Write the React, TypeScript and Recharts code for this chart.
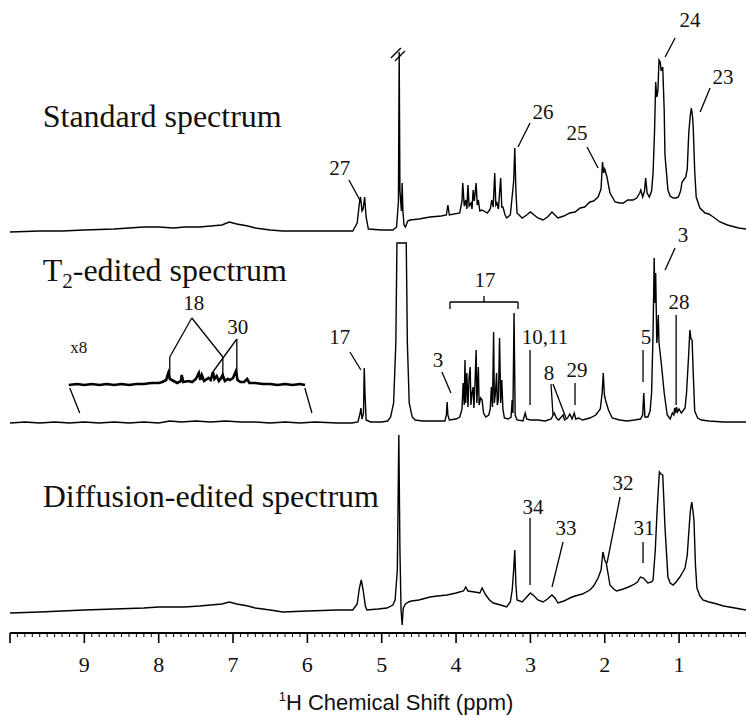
import { LineChart, Line, XAxis, YAxis, ReferenceLine, ReferenceDot } from "recharts";

// [ppm, intensity above the trace's own baseline]
const standardSpectrum: [number, number][] = [
  [10.0, -1], [9.6, 0], [9.3, 0], [9.0, 1], [8.6, 2], [8.2, 4], [8.0, 4], [7.8, 3], [7.65, 4],
  [7.45, 4], [7.3, 5], [7.15, 6], [7.05, 9], [6.95, 7], [6.8, 5], [6.7, 3], [6.5, 1], [6.33, 0],
  [5.8, 0], [5.39, 0], [5.33, 8], [5.3, 28], [5.285, 34], [5.265, 20], [5.25, 22], [5.23, 34],
  [5.21, 14], [5.18, 2], [5.0, 1], [4.85, 1], [4.8, 4], [4.775, 30], [4.765, 179], [4.755, 40],
  [4.735, 20], [4.725, 48], [4.715, 20], [4.7, 6], [4.68, 4], [4.65, 10], [4.62, 11], [4.5, 12],
  [4.35, 14], [4.2, 15], [4.13, 16], [4.11, 26], [4.09, 16], [3.95, 18], [3.92, 30], [3.91, 48],
  [3.89, 25], [3.87, 31], [3.855, 22], [3.84, 46], [3.825, 25], [3.8, 28], [3.785, 22], [3.77, 41],
  [3.755, 30], [3.73, 48], [3.715, 26], [3.7, 31], [3.68, 20], [3.65, 21], [3.58, 18], [3.54, 22],
  [3.52, 31], [3.5, 24], [3.48, 58], [3.465, 26], [3.45, 28], [3.43, 22], [3.4, 53], [3.385, 24],
  [3.37, 24], [3.34, 16], [3.32, 13], [3.27, 16], [3.25, 31], [3.225, 50], [3.21, 83], [3.195, 40],
  [3.18, 18], [3.11, 13], [3.05, 16], [3.0, 19], [2.95, 16], [2.9, 13], [2.83, 11], [2.77, 14],
  [2.71, 19], [2.67, 16], [2.63, 13], [2.55, 15], [2.47, 18], [2.4, 19], [2.33, 23], [2.27, 24],
  [2.2, 29], [2.15, 30], [2.09, 34], [2.05, 42], [2.03, 69], [2.015, 58], [2.0, 62], [1.97, 54],
  [1.93, 38], [1.86, 29], [1.8, 28], [1.75, 28], [1.69, 31], [1.62, 31], [1.57, 33], [1.53, 38],
  [1.515, 41], [1.49, 34], [1.465, 40], [1.45, 53], [1.43, 38], [1.4, 34], [1.37, 40], [1.35, 58],
  [1.33, 100], [1.315, 149], [1.3, 134], [1.285, 140], [1.27, 171], [1.255, 169], [1.24, 160],
  [1.22, 164], [1.2, 120], [1.19, 76], [1.15, 41], [1.12, 35], [1.08, 33], [1.04, 33], [1.01, 34],
  [0.98, 40], [0.96, 49], [0.93, 52], [0.91, 54], [0.89, 62], [0.87, 98], [0.85, 115], [0.835, 123],
  [0.82, 115], [0.81, 104], [0.79, 60], [0.77, 34], [0.72, 23], [0.65, 18], [0.6, 17], [0.54, 14],
  [0.45, 9], [0.35, 6], [0.2, 3], [0.1, 2],
];

const t2Spectrum: [number, number][] = [
  [10.0, 0], [9.8, 1], [9.6, 0], [9.4, 1], [9.2, 0], [9.0, 1], [8.8, 0], [8.6, 1], [8.4, 0],
  [8.2, 1], [8.0, 0], [7.85, 2], [7.7, 1], [7.5, 2], [7.3, 1], [7.1, 2], [6.9, 1], [6.7, 1],
  [6.5, 0], [6.3, 1], [6.1, 0], [5.9, 1], [5.6, 0], [5.4, 0], [5.32, 1], [5.29, 10], [5.28, 15],
  [5.265, 4], [5.245, 10], [5.235, 55], [5.225, 30], [5.21, 3], [5.15, 1], [5.0, 1], [4.92, 2],
  [4.88, 6], [4.84, 20], [4.81, 80], [4.795, 180], [4.67, 180], [4.655, 80], [4.63, 20], [4.59, 6],
  [4.55, 3], [4.45, 2], [4.3, 2], [4.15, 2], [4.13, 8], [4.12, 21], [4.11, 8], [4.09, 3], [4.0, 4],
  [3.95, 6], [3.92, 14], [3.905, 40], [3.89, 18], [3.88, 63], [3.87, 20], [3.855, 50], [3.84, 16],
  [3.825, 45], [3.81, 56], [3.8, 18], [3.785, 30], [3.77, 36], [3.76, 15], [3.745, 40], [3.73, 73],
  [3.72, 20], [3.7, 56], [3.69, 18], [3.67, 25], [3.65, 23], [3.63, 10], [3.6, 6], [3.56, 8],
  [3.54, 14], [3.525, 36], [3.51, 16], [3.495, 91], [3.485, 20], [3.47, 30], [3.455, 50], [3.445, 18],
  [3.43, 24], [3.415, 85], [3.4, 20], [3.385, 43], [3.37, 14], [3.35, 5], [3.3, 4], [3.26, 6],
  [3.245, 23], [3.235, 10], [3.22, 110], [3.205, 8], [3.18, 3], [3.1, 2], [3.07, 10], [3.05, 4],
  [3.0, 3], [2.9, 3], [2.8, 2], [2.72, 4], [2.68, 10], [2.65, 5], [2.62, 3], [2.56, 8], [2.54, 3],
  [2.5, 5], [2.47, 9], [2.44, 4], [2.41, 10], [2.39, 4], [2.35, 5], [2.3, 3], [2.2, 5], [2.12, 8],
  [2.06, 14], [2.035, 30], [2.02, 50], [2.005, 28], [1.99, 23], [1.95, 13], [1.9, 5], [1.8, 3],
  [1.7, 2], [1.6, 3], [1.52, 4], [1.49, 8], [1.475, 30], [1.46, 6], [1.42, 6], [1.39, 12],
  [1.37, 30], [1.35, 90], [1.335, 165], [1.325, 120], [1.315, 150], [1.3, 80], [1.29, 90],
  [1.28, 108], [1.27, 80], [1.24, 60], [1.2, 30], [1.16, 8], [1.12, 4], [1.09, 10], [1.07, 8],
  [1.06, 15], [1.045, 10], [1.035, 16], [1.02, 11], [1.0, 14], [0.97, 10], [0.95, 12], [0.92, 15],
  [0.9, 30], [0.87, 70], [0.855, 93], [0.84, 84], [0.825, 83], [0.81, 50], [0.79, 12], [0.75, 5],
  [0.7, 3], [0.6, 2], [0.4, 1], [0.1, 1],
];

// aromatic region of the T2-edited spectrum, shown x8
const t2Inset: [number, number][] = [
  [9.21, 0], [9.1, 1], [9.0, 0], [8.9, 1], [8.8, 0], [8.7, 1], [8.6, 0], [8.5, 1], [8.4, 0],
  [8.3, 1], [8.2, 1], [8.1, 2], [8.0, 2], [7.95, 3], [7.9, 5], [7.87, 12], [7.85, 6], [7.8, 4],
  [7.75, 2], [7.7, 4], [7.69, 10], [7.67, 3], [7.6, 4], [7.55, 3], [7.5, 6], [7.46, 12], [7.44, 5],
  [7.42, 10], [7.39, 4], [7.33, 7], [7.3, 5], [7.27, 13], [7.25, 6], [7.22, 9], [7.19, 4],
  [7.16, 7], [7.14, 10], [7.11, 4], [7.07, 6], [7.04, 5], [7.0, 7], [6.96, 14], [6.94, 5],
  [6.9, 3], [6.85, 3], [6.81, 6], [6.78, 2], [6.7, 2], [6.6, 1], [6.5, 1], [6.4, 0], [6.3, 1],
  [6.2, 0], [6.1, 1], [6.03, 0],
];

const diffusionSpectrum: [number, number][] = [
  [10.0, -3], [9.6, -2], [9.3, -1], [9.0, 0], [8.6, 1], [8.2, 2], [8.0, 3], [7.8, 3], [7.65, 3],
  [7.45, 4], [7.3, 5], [7.15, 6], [7.05, 8], [6.95, 6], [6.8, 4], [6.7, 2], [6.5, 0], [6.33, -2],
  [6.0, -1], [5.6, 0], [5.39, 0], [5.33, 6], [5.3, 22], [5.275, 30], [5.25, 20], [5.22, 4],
  [5.2, 0], [5.05, 1], [4.93, 2], [4.85, 5], [4.82, 10], [4.79, 40], [4.77, 175], [4.755, 60],
  [4.74, 0], [4.725, -15], [4.71, 2], [4.68, 6], [4.64, 8], [4.6, 9], [4.5, 10], [4.4, 12],
  [4.35, 13], [4.25, 14], [4.12, 15], [4.0, 17], [3.9, 19], [3.87, 23], [3.84, 19], [3.75, 18],
  [3.68, 17], [3.65, 22], [3.6, 15], [3.55, 10], [3.5, 7], [3.4, 5], [3.32, 3], [3.27, 8],
  [3.245, 20], [3.225, 40], [3.21, 60], [3.195, 25], [3.18, 10], [3.11, 8], [3.05, 13], [3.0, 17],
  [2.95, 14], [2.9, 10], [2.83, 8], [2.77, 11], [2.71, 15], [2.67, 12], [2.63, 7], [2.55, 9],
  [2.47, 12], [2.4, 14], [2.3, 16], [2.2, 20], [2.15, 24], [2.09, 32], [2.05, 40], [2.025, 58],
  [2.0, 50], [1.98, 47], [1.95, 34], [1.93, 25], [1.88, 21], [1.84, 19], [1.75, 21], [1.68, 23],
  [1.62, 25], [1.56, 28], [1.52, 33], [1.48, 32], [1.42, 27], [1.37, 28], [1.35, 30], [1.32, 60],
  [1.3, 93], [1.28, 120], [1.265, 138], [1.245, 136], [1.22, 135], [1.205, 110], [1.19, 83],
  [1.15, 33], [1.12, 27], [1.08, 25], [1.04, 28], [0.99, 33], [0.95, 38], [0.92, 42], [0.89, 55],
  [0.87, 77], [0.85, 98], [0.83, 108], [0.815, 100], [0.8, 90], [0.78, 45], [0.76, 22],
  [0.72, 14], [0.68, 10], [0.6, 8], [0.54, 7], [0.4, 4], [0.25, 2], [0.1, 0],
];

const majorTicks = [9, 8, 7, 6, 5, 4, 3, 2, 1];
const minorTicks = Array.from({ length: 100 }, (_, i) => +(0.1 + i * 0.1).toFixed(1));

// peak labels: [text, ppm, height]
const peakLabels: [string, number, number][] = [
  ["27", 5.563, 465], ["26", 2.83, 521], ["25", 2.373, 500], ["24", 0.852, 613], ["23", 0.408, 556],
  ["17", 3.611, 353], ["17", 5.563, 296], ["3", 4.244, 273], ["10,11", 2.803, 296], ["8", 2.75, 260],
  ["29", 2.373, 263], ["5", 1.444, 296], ["3", 0.946, 398], ["28", 1.0, 331],
  ["18", 7.528, 330], ["30", 6.935, 306],
  ["34", 2.965, 126], ["33", 2.521, 105], ["32", 1.754, 150], ["31", 1.471, 105],
];

// leader lines: [ppm1, h1, ppm2, h2]
const leaderLines: [number, number, number, number][] = [
  [5.441, 453, 5.28, 431], [3.005, 510, 3.167, 486], [2.238, 486, 2.09, 465],
  [1.054, 595, 1.188, 576], [0.583, 545, 0.717, 521],
  [4.876, 575, 4.742, 585], [4.822, 572, 4.688, 582],
  [4.082, 331, 3.167, 331], [4.082, 331, 4.082, 324], [3.167, 331, 3.167, 324], [3.624, 331, 3.624, 337],
  [5.428, 281, 5.28, 263], [4.19, 261, 4.069, 240], [3.005, 283, 3.005, 228],
  [2.723, 249, 2.696, 218], [2.696, 249, 2.521, 215], [2.4, 250, 2.4, 228],
  [1.485, 283, 1.485, 251], [1.054, 385, 1.188, 363], [1.04, 318, 1.04, 228],
  [7.555, 315, 7.851, 276], [7.851, 276, 7.851, 255], [7.555, 315, 7.137, 276], [7.137, 276, 7.137, 256],
  [6.949, 294, 7.272, 261], [6.949, 294, 6.949, 257],
  [9.196, 245, 9.062, 220], [6.034, 245, 5.939, 220],
  [3.005, 115, 3.005, 48], [2.561, 91, 2.709, 46], [1.794, 136, 1.969, 70], [1.485, 91, 1.485, 70],
];

const STANDARD_BASE = 402;
const T2_BASE = 210;
const INSET_BASE = 248;
const DIFFUSION_BASE = 23;

const SERIF = "'Liberation Serif', 'Times New Roman', serif";
const SANS = "'Liberation Sans', Arial, sans-serif";

const toRows = (pts: [number, number][], base: number) => pts.map(([x, v]) => ({ x, y: v + base }));

const AxisTick = (props: any) => {
  const { x, y, payload } = props;
  const v = payload.value;
  const major = Math.abs(v - Math.round(v)) < 1e-6;
  return (
    <g>
      <line x1={x} x2={x} y1={y} y2={y + (major ? 10 : 4)} stroke="#000" strokeWidth={major ? 1.6 : 1} />
      {major && majorTicks.includes(Math.round(v)) && (
        <text x={x} y={y + 39} textAnchor="middle" fontFamily={SERIF} fontSize={22} fill="#111">
          {Math.round(v)}
        </text>
      )}
    </g>
  );
};

const AxisTitle = (props: any) => {
  const vb = props.viewBox;
  return (
    <text x={vb.x + 386} y={vb.y + 77} textAnchor="middle" fontFamily={SANS} fontSize={22} fill="#111">
      <tspan fontSize={13} dy={-9}>1</tspan>
      <tspan dy={9}>H Chemical Shift (ppm)</tspan>
    </text>
  );
};

const SpectrumTitle = ({ viewBox, text, sub }: any) => (
  <text x={viewBox.x} y={viewBox.y} fontFamily={SERIF} fontSize={32} fill="#111">
    {sub ? (
      <>
        <tspan>T</tspan>
        <tspan fontSize={21} dy={7}>2</tspan>
        <tspan dy={-7}>-edited spectrum</tspan>
      </>
    ) : (
      text
    )}
  </text>
);

const PeakLabel = ({ viewBox, text }: any) => (
  <text x={viewBox.x} y={viewBox.y + 7} textAnchor="middle" fontFamily={SERIF} fontSize={21} fill="#111">
    {text}
  </text>
);

export default function App() {
  const lineProps = {
    dataKey: "y",
    stroke: "#000",
    dot: false,
    type: "linear" as const,
    isAnimationActive: false,
  };

  return (
    <div style={{ position: "absolute", left: 0, top: 0, width: 746, height: 716, background: "#fff" }}>
      <LineChart width={746} height={716} margin={{ top: 0, right: 0, bottom: 0, left: 10 }}>
        <XAxis
          dataKey="x"
          type="number"
          domain={[0.1, 10]}
          reversed
          allowDataOverflow
          ticks={minorTicks}
          interval={0}
          tickSize={0}
          tickMargin={0}
          tickLine={false}
          tick={AxisTick}
          axisLine={{ stroke: "#000", strokeWidth: 2 }}
          height={83}
          label={AxisTitle}
        />
        <YAxis hide type="number" domain={[0, 633]} allowDataOverflow />

        <Line {...lineProps} data={toRows(standardSpectrum, STANDARD_BASE)} strokeWidth={1.4} />
        <Line {...lineProps} data={toRows(t2Spectrum, T2_BASE)} strokeWidth={1.4} />
        <Line {...lineProps} data={toRows(t2Inset, INSET_BASE)} strokeWidth={2.6} />
        <Line {...lineProps} data={toRows(diffusionSpectrum, DIFFUSION_BASE)} strokeWidth={1.4} />

        {leaderLines.map(([x1, y1, x2, y2], i) => (
          <ReferenceLine
            key={`l${i}`}
            segment={[{ x: x1, y: y1 }, { x: x2, y: y2 }]}
            stroke="#000"
            strokeWidth={1.3}
            ifOverflow="visible"
          />
        ))}

        {peakLabels.map(([t, x, y], i) => (
          <ReferenceDot
            key={`p${i}`}
            x={x}
            y={y}
            r={0}
            fill="none"
            stroke="none"
            ifOverflow="visible"
            label={(p: any) => <PeakLabel {...p} text={t} />}
          />
        ))}

        <ReferenceDot x={9.075} y={285} r={0} fill="none" stroke="none" ifOverflow="visible"
          label={(p: any) => (
            <text x={p.viewBox.x} y={p.viewBox.y + 5} textAnchor="middle" fontFamily={SERIF} fontSize={17} fill="#111">x8</text>
          )}
        />
        <ReferenceDot x={9.56} y={506} r={0} fill="none" stroke="none" ifOverflow="visible"
          label={(p: any) => <SpectrumTitle {...p} text="Standard spectrum" />} />
        <ReferenceDot x={9.56} y={352} r={0} fill="none" stroke="none" ifOverflow="visible"
          label={(p: any) => <SpectrumTitle {...p} sub />} />
        <ReferenceDot x={9.56} y={126} r={0} fill="none" stroke="none" ifOverflow="visible"
          label={(p: any) => <SpectrumTitle {...p} text="Diffusion-edited spectrum" />} />
      </LineChart>
    </div>
  );
}
